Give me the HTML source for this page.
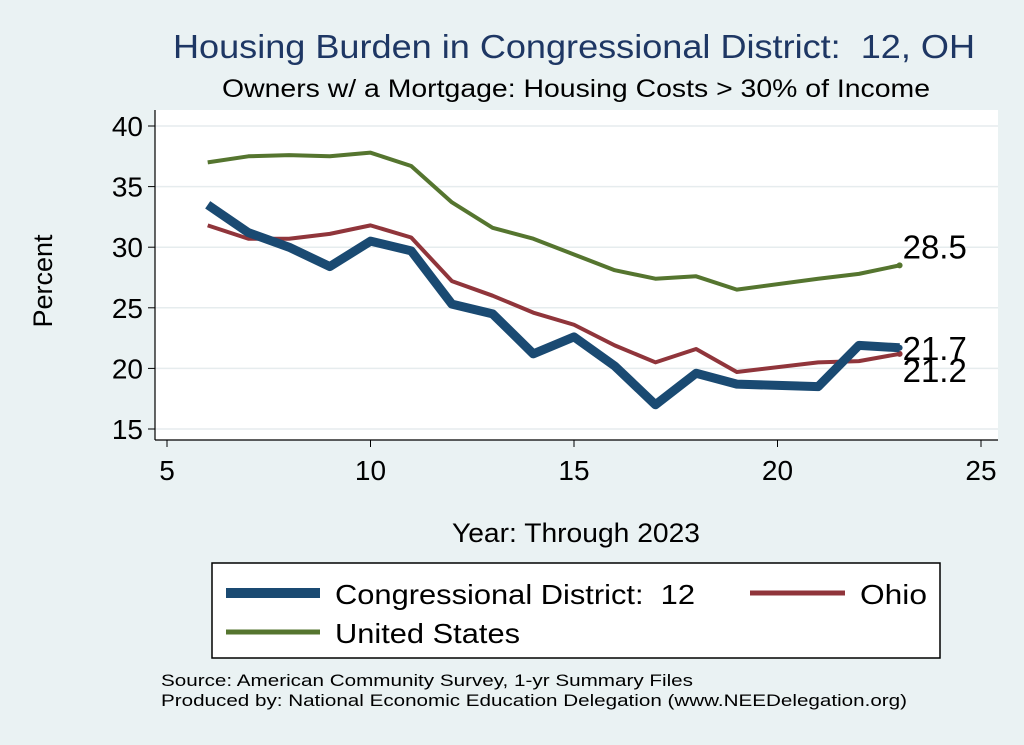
<!DOCTYPE html>
<html><head><meta charset="utf-8"><style>
body{margin:0;background:#eaf2f3;}
svg{display:block;font-family:"Liberation Sans",Arial,sans-serif;}
text{white-space:pre;}
</style></head><body>
<svg id="chart" width="1024" height="745" xml:space="preserve">
<rect x="0" y="0" width="1024" height="745" fill="#eaf2f3"/>
<text x="173" y="58" font-size="33" fill="#1e3764" textLength="802" lengthAdjust="spacingAndGlyphs">Housing Burden in Congressional District:  12, OH</text>
<text x="222" y="97" font-size="25" fill="#000" textLength="708" lengthAdjust="spacingAndGlyphs">Owners w/ a Mortgage: Housing Costs &gt; 30% of Income</text>
<rect x="155" y="110" width="843" height="330" fill="#fff"/>
<g id="grid"></g><g id="axes"></g><g id="series"></g>
<text x="52" y="281" font-size="27" text-anchor="middle" transform="rotate(-90 52 281)">Percent</text>
<text x="576" y="542" font-size="27" text-anchor="middle" textLength="248" lengthAdjust="spacingAndGlyphs">Year: Through 2023</text>
<g>
<rect x="212" y="563" width="728" height="95" fill="#fff" stroke="#000" stroke-width="1.5"/>
<line x1="226" y1="593" x2="320" y2="593" stroke="#1a4a72" stroke-width="10"/>
<text x="335" y="604" font-size="28" textLength="360" lengthAdjust="spacingAndGlyphs">Congressional District:  12</text>
<line x1="750" y1="593" x2="845" y2="593" stroke="#90353b" stroke-width="5"/>
<text x="860" y="604" font-size="28" textLength="67" lengthAdjust="spacingAndGlyphs">Ohio</text>
<line x1="226" y1="632" x2="320" y2="632" stroke="#55752f" stroke-width="5"/>
<text x="335" y="643" font-size="28" textLength="185" lengthAdjust="spacingAndGlyphs">United States</text>
</g>
<text x="161" y="686" font-size="17" textLength="532" lengthAdjust="spacingAndGlyphs">Source: American Community Survey, 1-yr Summary Files</text>
<text x="161" y="706" font-size="17" textLength="746" lengthAdjust="spacingAndGlyphs">Produced by: National Economic Education Delegation (www.NEEDelegation.org)</text>
</svg>
<script>
const years=[6,7,8,9,10,11,12,13,14,15,16,17,18,19,21,22,23];
const district=[33.5,31.2,30.0,28.4,30.5,29.7,25.3,24.5,21.2,22.6,20.2,17.0,19.6,18.7,18.5,21.9,21.7];
const ohio=[31.8,30.7,30.7,31.1,31.8,30.8,27.2,26.0,24.6,23.6,21.9,20.5,21.6,19.7,20.5,20.6,21.2];
const us=[37.0,37.5,37.6,37.5,37.8,36.7,33.7,31.6,30.7,29.4,28.1,27.4,27.6,26.5,27.4,27.8,28.5];
const xTicks=[5,10,15,20,25];
const yTicks=[15,20,25,30,35,40];
const NS="http://www.w3.org/2000/svg";
function X(v){return 167+(v-5)*40.7;}
function Y(v){return 429-(v-15)*12.12;}
function mk(tag,attrs,parent){const e=document.createElementNS(NS,tag);for(const k in attrs)e.setAttribute(k,attrs[k]);parent.appendChild(e);return e;}
const grid=document.getElementById('grid'),axes=document.getElementById('axes'),ser=document.getElementById('series');
mk('line',{x1:155,y1:110,x2:155,y2:440,stroke:'#000','stroke-width':1.2},axes);
mk('line',{x1:155,y1:440,x2:998,y2:440,stroke:'#000','stroke-width':1.2},axes);
yTicks.forEach(t=>{
 const g=mk('line',{x1:155,x2:998,y1:Y(t),y2:Y(t),stroke:'#e6ecee','stroke-width':1.5},grid);
 
 
 mk('line',{x1:148,x2:155,y1:Y(t),y2:Y(t),stroke:'#000'},axes);
 const tx=mk('text',{x:143,y:Y(t)+10,'font-size':28,'text-anchor':'end'},axes);tx.textContent=t;
 
 
});
xTicks.forEach(t=>{
 mk('line',{x1:X(t),x2:X(t),y1:440,y2:447,stroke:'#000'},axes);
 const tx=mk('text',{x:X(t),y:480,'font-size':28,'text-anchor':'middle'},axes);tx.textContent=t;
 
 
});
function line(vals,color,w,name){
 const p=mk('polyline',{points:years.map((y,i)=>X(y)+','+Y(vals[i])).join(' '),fill:'none',stroke:color,'stroke-width':w,'stroke-linejoin':'round'},ser);
 
 
 const n=vals.length-1;
 mk('circle',{cx:X(years[n]),cy:Y(vals[n]),r:3,fill:color},ser);
}
line(us,'#55752f',4,'us-line');
line(ohio,'#90353b',4,'ohio-line');
line(district,'#1a4a72',9,'district-line');
function lab(v,dy,name){
 const t=mk('text',{x:X(23)+3,y:Y(v)+dy,'font-size':33},ser);t.textContent=v.toFixed(1);
 
 
}
lab(us[us.length-1],-7,'us-end-label');
lab(district[district.length-1],12,'district-end-label');
lab(ohio[ohio.length-1],28,'ohio-end-label');
</script>
</body></html>
